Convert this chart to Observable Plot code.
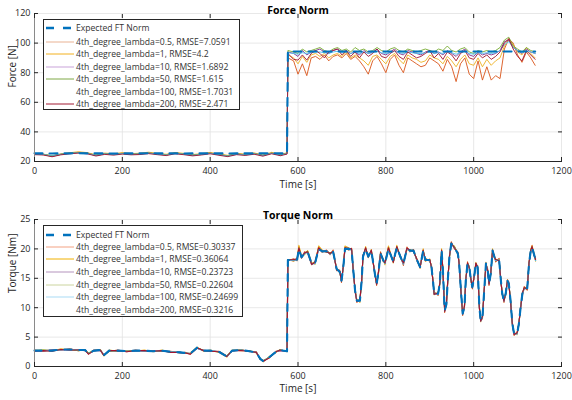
<!DOCTYPE html>
<html><head><meta charset="utf-8">
<script src="https://cdn.jsdelivr.net/npm/d3@7"></script>
<script src="https://cdn.jsdelivr.net/npm/@observablehq/plot@0.6"></script>
<style>
body{margin:0;background:#fff;}
#wrap{position:relative;width:572px;height:400px;overflow:hidden;font-family:"Open Sans",sans-serif;}
.panel{position:absolute;left:0;width:572px;height:200px;}
.panel svg{display:block;}
.legend{position:absolute;background:#fff;border:1px solid #262626;box-sizing:border-box;}
.row{position:absolute;left:0;right:0;height:12px;}
.row svg{position:absolute;left:1px;top:0;}
.row span{position:absolute;left:32px;top:0;line-height:12px;font-size:8.6px;color:#333;white-space:nowrap;}
</style></head>
<body><div id="wrap"></div>
<script>
// ---------- tick values ----------
const xTicks = [0, 200, 400, 600, 800, 1000, 1200];
const forceTicks = [20, 40, 60, 80, 100, 120];
const torqueTicks = [0, 5, 10, 15, 20, 25];

// ---------- series names / colours ----------
const seriesNames = ["lambda=0.5", "lambda=1", "lambda=10", "lambda=50", "lambda=100", "lambda=200"];
const seriesColors = ["#D95319", "#EDB120", "#7E2F8E", "#77AC30", "#4DBEEE", "#A2142F"];
const forceLegendLabels = ["Expected FT Norm",
  "4th_degree_lambda=0.5, RMSE=7.0591", "4th_degree_lambda=1, RMSE=4.2",
  "4th_degree_lambda=10, RMSE=1.6892", "4th_degree_lambda=50, RMSE=1.615",
  "4th_degree_lambda=100, RMSE=1.7031", "4th_degree_lambda=200, RMSE=2.471"];
const forceLegendColors = ["#0072BD", "#e9b293", "#f2b01e", "#c9a3d9", "#7fa847", "none", "#a11a33"];
const torqueLegendLabels = ["Expected FT Norm",
  "4th_degree_lambda=0.5, RMSE=0.30337", "4th_degree_lambda=1, RMSE=0.36064",
  "4th_degree_lambda=10, RMSE=0.23723", "4th_degree_lambda=50, RMSE=0.22604",
  "4th_degree_lambda=100, RMSE=0.24699", "4th_degree_lambda=200, RMSE=0.3216"];
const torqueLegendColors = ["#0072BD", "#f3a283", "#f0b000", "#b493bd", "#cbd49e", "#a9dbf5", "none"];

// ---------- Force Norm data ----------
const forceTime = [0,20,40,60,80,100,120,140,160,180,200,220,240,260,280,300,320,340,360,380,400,420,440,460,480,500,520,540,560,575,
  577,590,600,610,620,630,640,650,660,670,680,690,700,710,720,730,740,750,760,770,780,790,800,810,820,830,840,850,860,870,
  880,890,900,910,920,930,940,950,960,970,980,990,1000,1010,1020,1030,1040,1050,1060,1070,1080,1090,1100,1110,1120,1130,1140];
const forceExpected = [25.5,25.5,25.4,25.5,25.5,25.6,25.5,25.5,25.5,25.4,25.5,25.5,25.5,25.6,25.5,25.5,25.5,25.4,25.5,25.5,25.5,25.5,25.4,25.5,25.5,25.5,25.5,25.6,25.5,25.5,
  94.3,94.3,94.3,94.3,94.3,94.3,94.3,94.3,94.3,94.3,94.3,94.3,94.3,94.3,94.3,94.3,94.3,94.3,94.3,94.3,94.3,94.3,94.3,94.3,94.3,94.3,94.3,94.3,94.3,94.3,
  94.3,94.3,94.3,94.3,94.3,94.3,94.3,94.3,94.3,94.3,94.3,94.3,94.3,94.3,94.3,94.3,94.3,94.3,94.3,94.3,94.3,94.3,94.3,94.3,94.3,94.3,94.3];
const force_l05 = [25.2,24.6,23.4,24.8,25.6,26.2,25.8,24.2,25.4,24.9,25.7,24.8,25.3,26.0,25.1,24.5,25.8,25.2,24.3,25.0,25.9,24.7,23.8,25.2,24.6,25.5,24.1,25.8,24.4,25.6,
  90,88,79,86,78,90,91,89,92,88, 91,92,90,93,89,91,88,84,79,88, 91,86,80,89,92,85,80,90,88,86,
  84,85,90,88,86,81,89,84,74,86, 90,79,76,88,75,84,75,78,76,96, 103,100,92,87,94,90,85];
const force_l1 = [25.4,25.0,23.9,25.1,25.9,26.6,26.0,24.5,25.7,25.2,26.0,25.3,25.6,26.3,25.4,24.9,26.1,25.5,24.7,25.3,26.1,25.0,24.2,25.5,25.0,25.8,24.4,26.2,24.8,25.9,
  92,90,86,91,87,92,93,91,93,90, 92,93,91,94,90,92,90,88,85,91, 92,89,86,91,93,89,86,92,90,89,
  87,88,92,90,89,86,91,88,84,89, 92,86,85,90,84,89,85,88,90,98, 102,99,94,92,97,93,90];
const force_l10 = [25.0,24.8,23.6,24.9,25.5,26.0,25.5,24.0,25.2,24.7,25.4,24.9,25.1,25.7,25.0,24.4,25.6,25.0,24.2,24.8,25.6,24.6,23.7,25.0,24.5,25.3,24.0,25.6,24.3,25.4,
  94,93,91,95,92,94,95,96,94,93, 95,96,94,95,93,94,92,95,93,94, 96,93,92,94,96,93,92,95,94,93,
  92,94,95,93,94,92,95,93,91,94, 96,92,91,94,92,93,92,93,95,101, 102,97,95,93,96,94,93];
const force_l50 = [25.1,24.9,23.8,25.0,25.6,26.1,25.6,24.2,25.3,24.8,25.5,25.0,25.2,25.8,25.1,24.5,25.7,25.1,24.3,24.9,25.7,24.7,23.9,25.1,24.6,25.4,24.1,25.7,24.4,25.5,
  95,94,93,96,94,95,96,97,95,94, 96,97,95,96,94,97,95,96,94,95, 97,95,94,96,97,95,94,96,95,94,
  95,96,95,94,96,95,98,95,94,96, 97,94,93,95,94,95,94,95,97,102, 104,98,96,94,97,95,94];
const force_l100 = [25.0,24.7,23.7,24.8,25.4,25.9,25.4,24.1,25.1,24.6,25.3,24.8,25.0,25.6,24.9,24.3,25.5,24.9,24.1,24.7,25.5,24.5,23.6,24.9,24.4,25.2,23.9,25.5,24.2,25.3,
  93.5,93,92.5,93.5,93,93.5,94,94,93.5,93, 94,94.5,93.5,94,93,94,93,94,93,93.5, 94.5,93.5,93,93.5,94.5,93.5,93,94,93.5,93,
  93,93.5,94,93,93.5,93,94.5,93.5,92.5,93.5, 94.5,93,92.5,93.5,93,93.5,93,93.5,95,99, 101,97,95,93.5,95,94,93];
const force_l200 = [24.6,24.4,23.2,24.5,25.2,25.7,25.2,23.7,24.8,24.3,25.0,24.5,24.7,25.3,24.6,24.0,25.2,24.6,23.8,24.4,25.2,24.2,23.3,24.6,24.1,24.9,23.6,25.2,23.9,25.0,
  93,89,88.5,92,88.5,93,95,93,90,94, 95,96,92,95,91,94,90,94,91,93, 96,91,90,93,95,91,89,94,92,90,
  91,93,95,90,93,89,94,92,88,93, 95,90,89,93,90,92,89,91,94,100, 103,96,91,88,95,92,89];

// ---------- Torque Norm data ----------
const torqueTime = [0,20,40,60,80,100,115,123,135,150, 158,170,190,210,230,250,270,290,310,330, 343,355,370,385,400,420,438,450,470,490, 505,514,521,535,550,559,575,
  577,590,598,602,608,615,622,631,639,647, 655,665,673,680,688,695,699,703,707,715, 722,726,730,734,741,745,748,754,760,767,
  775,779,783,788,794,798,806,810,817,825, 833,840,848,855,863,871,878,885,890,900, 904,908,910,919,923,927,930,934,938,941,
  945,949,956,964,967,971,975,979,982,986, 990,994,997,1001,1005,1009,1013,1016,1020,1024, 1028,1032,1035,1039,1043,1047,1050,1058,1062,1065,
  1069,1073,1077,1080,1084,1088,1092,1099,1103,1107, 1111,1115,1122,1126,1130,1133,1137,1141];
const torqueExpected = [2.7,2.7,2.7,2.9,2.9,2.8,2.8,2.2,2.7,2.8, 1.9,2.7,2.7,2.6,2.7,2.7,2.6,2.7,2.5,2.4, 2.3,2.2,3.2,2.7,2.7,2.5,1.7,2.7,2.8,2.6, 2.4,1.3,0.9,1.6,2.5,2.8,2.6,
  18.1,18.1,18.2,20.0,18.6,19.2,19.5,17.5,17.6,20.0, 19.6,19.6,19.2,19.5,16.6,16.1,14.6,16.8,20.0,20.0, 19.9,16.3,12.9,11.2,11.2,14.6,18.7,20.0,18.7,19.7,
  15.8,14.1,15.8,19.2,18.1,17.5,20.0,19.2,17.8,20.3, 18.7,17.5,20.0,19.7,19.7,18.1,16.9,19.7,18.1,18.1, 16.9,14.1,12.4,12.4,14.1,19.7,16.3,9.5,10.6,14.6,
  18.7,20.9,20.3,19.2,17.5,12.9,9.0,10.1,14.6,17.5, 16.9,14.6,13.5,15.2,17.5,16.9,10.1,7.8,8.4,12.9, 17.5,16.3,14.1,15.8,19.7,18.7,18.1,18.1,14.6,12.4,
  11.2,12.4,14.6,14.1,11.2,7.3,5.6,5.6,7.3,10.1, 12.4,13.3,13.3,17.5,19.7,20.3,19.2,18.1];
const torque_l05 = [2.8,2.6,2.8,2.8,3.0,2.7,2.9,2.1,2.8,2.7, 2.0,2.6,2.8,2.5,2.8,2.6,2.7,2.6,2.6,2.3, 2.4,2.1,3.1,2.8,2.6,2.6,1.8,2.6,2.9,2.5, 2.5,1.2,1.0,1.5,2.6,2.7,2.7,
  18.0,18.3,18.0,20.4,18.4,19.5,19.3,17.3,17.9,20.3, 19.4,19.8,19.0,19.8,16.3,16.4,14.3,17.1,20.3,19.8, 20.1,16.0,13.2,10.9,11.5,14.3,19.0,19.7,18.9,19.5,
  16.1,13.8,16.1,19.5,17.9,17.8,20.3,19.0,18.1,20.0, 18.9,17.2,20.3,19.5,19.9,17.9,17.2,19.4,18.4,17.9, 17.2,13.8,12.7,12.1,14.4,19.4,16.6,9.2,10.9,14.3,
  19.0,21.2,20.0,19.5,17.2,13.2,8.7,10.4,14.3,17.8, 16.6,14.9,13.2,15.5,17.2,17.2,9.8,8.1,8.1,13.2, 17.2,16.6,13.8,16.1,19.4,19.0,17.8,18.4,14.3,12.7,
  10.9,12.7,14.3,14.4,10.9,7.6,5.3,5.9,7.0,10.4, 12.1,13.6,13.0,17.8,19.4,20.6,18.9,18.4];
const torque_l1 = [2.7,2.8,2.6,3.0,2.8,2.9,2.7,2.3,2.6,2.9, 1.8,2.8,2.6,2.7,2.6,2.8,2.5,2.8,2.4,2.5, 2.2,2.3,3.3,2.6,2.8,2.4,1.6,2.8,2.7,2.7, 2.3,1.4,0.8,1.7,2.4,2.9,2.5,
  18.2,17.9,18.4,20.6,18.8,19.0,19.7,17.7,17.4,20.5, 19.8,19.4,19.4,19.3,16.8,15.9,14.8,16.6,20.5,20.2, 19.7,16.5,12.7,11.4,10.9,14.8,18.5,20.4,18.5,19.9,
  15.6,14.3,15.6,19.0,18.3,17.3,20.5,19.4,17.6,20.6, 18.5,17.7,19.8,19.9,19.5,18.3,16.7,20.0,17.9,18.3, 16.7,14.4,12.2,12.6,13.9,20.0,16.1,9.8,10.4,14.9,
  18.5,20.7,20.5,19.0,17.7,12.7,9.3,9.9,14.9,17.3, 17.1,14.4,13.7,15.0,17.7,16.7,10.4,7.6,8.7,12.6, 17.7,16.1,14.4,15.6,20.0,18.5,18.3,17.9,14.8,12.2,
  11.4,12.2,14.8,13.9,11.5,7.1,5.8,5.4,7.5,9.9, 12.6,13.1,13.5,17.3,20.0,20.5,19.4,17.9];
const torque_l10 = [2.6,2.7,2.8,2.9,2.8,2.8,2.7,2.2,2.7,2.7, 1.9,2.7,2.6,2.6,2.7,2.6,2.6,2.7,2.5,2.4, 2.3,2.2,3.1,2.7,2.7,2.5,1.7,2.7,2.8,2.6, 2.4,1.3,0.9,1.6,2.5,2.7,2.6,
  18.1,18.0,18.2,19.9,18.6,19.3,19.5,17.4,17.6,19.9, 19.6,19.7,19.2,19.5,16.5,16.1,14.6,16.9,19.9,20.0, 19.9,16.2,12.9,11.1,11.2,14.5,18.8,20.0,18.7,19.6,
  15.8,14.0,15.9,19.2,18.1,17.6,20.0,19.2,17.8,20.2, 18.7,17.5,20.1,19.7,19.6,18.1,16.9,19.6,18.1,18.1, 16.9,14.1,12.3,12.4,14.1,19.6,16.3,9.4,10.6,14.6,
  18.8,20.8,20.3,19.2,17.5,12.9,9.1,10.1,14.5,17.5, 16.9,14.6,13.4,15.2,17.5,16.9,10.0,7.8,8.4,12.9, 17.4,16.3,14.1,15.9,19.7,18.7,18.1,18.0,14.6,12.4,
  11.2,12.3,14.6,14.1,11.2,7.3,5.5,5.6,7.3,10.1, 12.4,13.3,13.3,17.4,19.7,20.2,19.2,18.1];
const torque_l50 = [2.7,2.8,2.7,2.9,2.9,2.7,2.8,2.3,2.7,2.8, 1.9,2.6,2.7,2.6,2.7,2.7,2.6,2.6,2.5,2.4, 2.3,2.2,3.2,2.7,2.6,2.5,1.8,2.7,2.8,2.6, 2.4,1.3,1.0,1.6,2.5,2.8,2.6,
  18.2,18.1,18.2,20.1,18.6,19.2,19.6,17.5,17.6,20.1, 19.6,19.6,19.3,19.5,16.6,16.2,14.6,16.8,20.1,20.0, 19.9,16.3,13.0,11.2,11.3,14.6,18.7,20.1,18.7,19.7,
  15.9,14.1,15.8,19.3,18.1,17.5,20.1,19.2,17.8,20.3, 18.8,17.5,20.0,19.8,19.7,18.1,16.9,19.7,18.2,18.1, 16.9,14.2,12.4,12.5,14.1,19.7,16.4,9.5,10.7,14.6,
  18.7,20.9,20.4,19.2,17.6,12.9,9.0,10.2,14.6,17.5, 17.0,14.6,13.5,15.3,17.5,16.9,10.1,7.9,8.4,12.9, 17.5,16.3,14.2,15.8,19.7,18.8,18.1,18.1,14.7,12.4,
  11.3,12.4,14.6,14.1,11.2,7.4,5.6,5.6,7.3,10.2, 12.4,13.3,13.4,17.5,19.8,20.3,19.2,18.1];
const torque_l100 = [2.7,2.7,2.7,2.8,2.9,2.8,2.8,2.2,2.6,2.8, 2.0,2.7,2.7,2.6,2.6,2.7,2.6,2.7,2.5,2.5, 2.3,2.2,3.1,2.7,2.7,2.5,1.7,2.6,2.8,2.6, 2.4,1.4,0.9,1.6,2.5,2.8,2.6,
  18.0,18.1,18.1,20.0,18.5,19.2,19.4,17.5,17.5,20.0, 19.5,19.6,19.1,19.5,16.6,16.0,14.6,16.7,20.0,19.9, 19.8,16.3,12.8,11.2,11.1,14.6,18.6,20.0,18.6,19.7,
  15.8,14.1,15.7,19.2,18.0,17.5,19.9,19.1,17.8,20.2, 18.7,17.4,20.0,19.6,19.7,18.0,16.9,19.6,18.1,18.0, 16.8,14.1,12.4,12.3,14.0,19.7,16.2,9.5,10.5,14.5,
  18.7,20.8,20.2,19.1,17.5,12.8,9.0,10.0,14.6,17.4, 16.9,14.5,13.5,15.2,17.4,16.8,10.1,7.7,8.4,12.8, 17.5,16.2,14.1,15.7,19.6,18.7,18.0,18.1,14.5,12.4,
  11.1,12.4,14.5,14.0,11.2,7.2,5.6,5.5,7.3,10.0, 12.4,13.2,13.3,17.4,19.7,20.2,19.1,18.0];
const torque_l200 = [2.6,2.7,2.6,2.9,2.8,2.8,2.8,2.1,2.7,2.8, 1.9,2.7,2.7,2.5,2.7,2.7,2.6,2.7,2.4,2.4, 2.3,2.1,3.2,2.7,2.6,2.5,1.7,2.7,2.7,2.6, 2.4,1.3,0.9,1.5,2.5,2.8,2.6,
  18.1,18.2,18.3,20.2,18.5,19.3,19.5,17.4,17.7,20.2, 19.6,19.5,19.2,19.6,16.5,16.2,14.5,16.9,20.2,20.1, 20.0,16.2,12.8,11.1,11.3,14.7,18.8,20.2,18.6,19.8,
  15.7,14.0,15.9,19.3,18.0,17.6,20.2,19.3,17.7,20.4, 18.6,17.6,20.1,19.8,19.6,18.2,16.8,19.8,18.0,18.2, 16.8,14.0,12.3,12.5,14.2,19.8,16.2,9.4,10.7,14.7,
  18.8,21.0,20.2,19.3,17.4,12.8,8.9,10.2,14.7,17.6, 16.8,14.7,13.4,15.3,17.6,16.8,10.0,7.7,8.5,13.0, 17.6,16.2,14.0,15.9,19.8,18.6,18.2,18.0,14.5,12.3,
  11.1,12.5,14.7,14.0,11.1,7.2,5.5,5.7,7.4,10.0, 12.5,13.4,13.2,17.6,19.8,20.4,19.1,18.2];

// ---------- drawing ----------
function rows(times, values) {
  return times.map((t, i) => ({t, v: values[i]})).filter(d => d.v != null);
}

function makePanel(cfg) {
  const models = cfg.models.map((arr, k) =>
    Plot.line(rows(cfg.times, arr), {x: "t", y: "v", stroke: seriesColors[k], strokeWidth: cfg.modelWidth}));
  return Plot.plot({
    width: 572, height: 200,
    marginTop: cfg.mt, marginBottom: cfg.mb, marginLeft: 34, marginRight: 11,
    x: {domain: [0, 1200]},
    y: {domain: cfg.yDomain},
    style: {fontFamily: "'Open Sans', sans-serif", fontSize: "9px", color: "#262626", background: "transparent", overflow: "visible"},
    marks: [
      Plot.gridX(xTicks, {stroke: "#e2e2e2", strokeOpacity: 1, strokeWidth: 0.8}),
      Plot.gridY(cfg.yTicks, {stroke: "#e2e2e2", strokeOpacity: 1, strokeWidth: 0.8}),
      ...models,
      Plot.line(rows(cfg.times, cfg.expected), {x: "t", y: "v", stroke: "#0072BD", strokeWidth: 2.1, strokeDasharray: cfg.dash}),
      Plot.ruleX([0], {stroke: "#8a8a8a", strokeWidth: 1}),
      Plot.ruleY([cfg.yDomain[0]], {stroke: "#262626", strokeWidth: 1}),
      Plot.axisX(xTicks, {tickSize: 0, tickPadding: 6, tickFormat: "d", label: null}),
      Plot.axisX(xTicks, {tickSize: -4, tickFormat: () => "", label: null}),
      Plot.axisX(xTicks, {anchor: "top", tickSize: -4, tickFormat: () => "", label: null}),
      Plot.axisY(cfg.yTicks, {tickSize: 0, tickPadding: 4, tickFormat: "d", label: null}),
      Plot.axisY(cfg.yTicks, {tickSize: -4, tickFormat: () => "", label: null}),
      Plot.axisY(cfg.yTicks, {anchor: "right", tickSize: -4, tickFormat: () => "", label: null}),
      Plot.text([cfg.title], {text: d => d, frameAnchor: "top", dy: cfg.titleDy, fontWeight: "bold", fontSize: 10.5, fill: "#000"}),
      Plot.text(["Time [s]"], {text: d => d, frameAnchor: "bottom", dy: cfg.xlabDy, fontSize: 10, fill: "#262626"}),
      Plot.text([cfg.ylabel], {text: d => d, frameAnchor: "left", dx: -22, rotate: -90, fontSize: 10, fill: "#262626"})
    ]
  });
}

function makeLegend(labels, colors, left, top, width, height, rowTops) {
  const box = document.createElement("div");
  box.className = "legend";
  Object.assign(box.style, {left: left + "px", top: top + "px", width: width + "px", height: height + "px"});
  labels.forEach((lab, i) => {
    const r = document.createElement("div");
    r.className = "row";
    r.style.top = rowTops[i] + "px";
    let sample;
    if (i === 0) {
      sample = `<svg width="30" height="12"><line x1="1" x2="29" y1="6" y2="6" stroke="${colors[i]}" stroke-width="2.5" stroke-dasharray="8,9"/></svg>`;
    } else {
      sample = `<svg width="30" height="12"><line x1="1" x2="29" y1="6" y2="6" stroke="${colors[i]}" stroke-width="1"/></svg>`;
    }
    r.innerHTML = sample + `<span>${lab}</span>`;
    box.appendChild(r);
  });
  return box;
}

const wrap = document.getElementById("wrap");

const p1 = document.createElement("div");
p1.className = "panel"; p1.style.top = "0px";
p1.appendChild(makePanel({
  times: forceTime, expected: forceExpected,
  models: [force_l05, force_l1, force_l10, force_l50, force_l100, force_l200],
  yDomain: [20, 120], yTicks: forceTicks, mt: 13, mb: 39, modelWidth: 0.9, dash: "8,7",
  title: "Force Norm", ylabel: "Force [N]", titleDy: -7, xlabDy: 26
}));
p1.appendChild(makeLegend(forceLegendLabels, forceLegendColors, 43, 19, 197, 91, [2, 16, 28, 40.5, 53, 65.5, 78]));
wrap.appendChild(p1);

const p2 = document.createElement("div");
p2.className = "panel"; p2.style.top = "200px";
p2.appendChild(makePanel({
  times: torqueTime, expected: torqueExpected,
  models: [torque_l05, torque_l1, torque_l10, torque_l50, torque_l100, torque_l200],
  yDomain: [0, 25], yTicks: torqueTicks, mt: 19, mb: 34, modelWidth: 1.1, dash: "7,8",
  title: "Torque Norm", ylabel: "Torque [Nm]", titleDy: -8, xlabDy: 25
}));
p2.appendChild(makeLegend(torqueLegendLabels, torqueLegendColors, 43, 25, 200, 92, [2.5, 15, 27, 40, 52.5, 65, 77.5]));
wrap.appendChild(p2);
</script>
</body></html>
